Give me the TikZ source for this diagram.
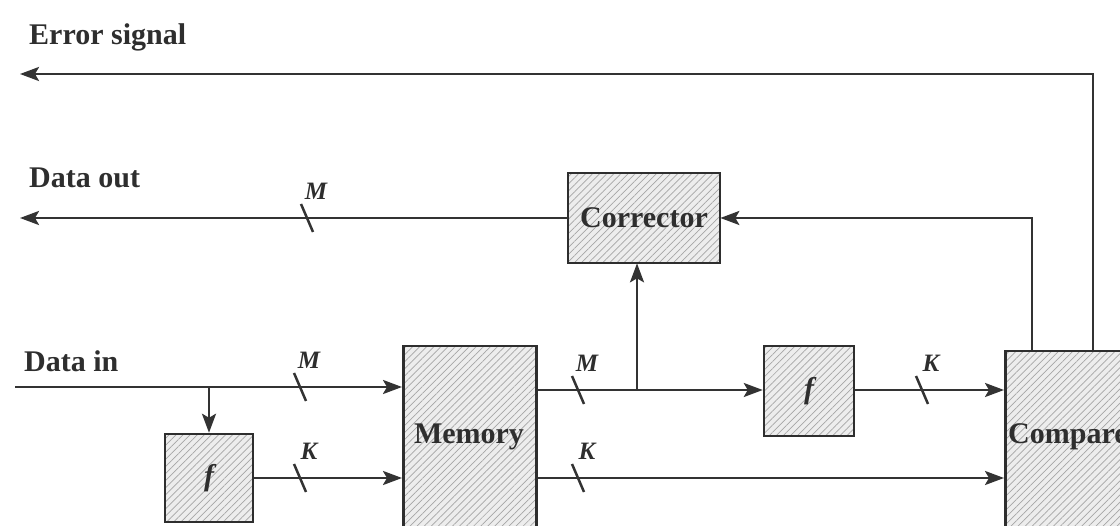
\documentclass[tikz,border=0pt]{standalone}
\usepackage{fontspec}
\setmainfont{Liberation Serif}
\usetikzlibrary{arrows.meta,patterns.meta,calc}
\tikzset{
  line/.style={line width=2.5pt, draw=black!80},
  arr/.style={line, -{Stealth[length=19pt,width=14pt,inset=4pt]}},
  blk/.style={draw=black!82, line width=2.5pt, rectangle, inner sep=0pt,
    preaction={fill=black!7},
    pattern={Lines[angle=45,distance=5pt,line width=0.7pt]}, pattern color=black!35},
  big/.style={font=\fontsize{30}{34}\selectfont\bfseries, text=black!82},
  lbl/.style={big, inner sep=0pt, anchor=west},
  bus/.style={font=\fontsize{25}{28}\selectfont\bfseries\itshape, text=black!82, inner sep=0pt},
  slash/.style={line width=2.5pt, draw=black!80}
}
\begin{document}
\begin{tikzpicture}[x=1pt,y=-1pt]
\useasboundingbox (0,0) rectangle (1120,526);
\clip (0,0) rectangle (1120,526);
% blocks
\node[blk, big, minimum width=152pt, minimum height=90pt] (corr) at (644,218) {Corrector};
\node[blk, minimum width=133pt, minimum height=215pt, anchor=north west] (mem) at (402,345) {};
\node[big] (memt) at (469,437) {Memory};
\node[blk, big, minimum width=90pt, minimum height=90pt] (f2) at (809,391) {\itshape f};
\node[blk, big, minimum width=88pt, minimum height=88pt] (f1) at (209,478) {\itshape f};
\node[blk, minimum width=200pt, minimum height=210pt, anchor=north west] (cmp) at (1004,350) {};
\node[lbl] (cmpt) at (1008,437) {Compare};
% labels
\node[lbl] (es) at (29,37) {Error signal};
\node[lbl] (dout) at (29,178) {Data out};
\node[lbl] (din) at (24,361) {Data in};
% coordinates
\coordinate (esend) at (20,74);
\coordinate (doend) at (20,218);
\coordinate (dinst) at (15,387);
\coordinate (br1) at (209,387);
\coordinate (br2) at (637,390);
\coordinate (c1) at (1032,350);
\coordinate (c2) at (1093,350);
% connectors
\draw[arr] (dinst) -- (dinst -| mem.west);
\draw[arr] (br1) -- (f1.north);
\draw[arr] (f1.east) -- (f1.east -| mem.west);
\draw[arr] (mem.east |- br2) -- (br2 -| f2.west);
\draw[arr] (br2) -- (br2 |- corr.south);
\draw[arr] (f2.east |- br2) -- (br2 -| cmp.west);
\draw[arr] (mem.east |- 0,478) -- (cmp.west |- 0,478);
\draw[arr] (c1) |- (corr.east);
\draw[arr] (c2) |- (esend);
\draw[arr] (corr.west) -- (doend);
% bus slashes
\foreach \x/\y/\t/\n in {307/218/M/s1, 300/387/M/s2, 300/478/K/s3, 578/390/M/s4, 578/478/K/s5, 922/390/K/s6}{
  \draw[slash] (\x-6,\y-14) -- (\x+6,\y+14);
  \node[bus] (\n) at (\x+9,\y-27) {\t};
}
\end{tikzpicture}
\end{document}
